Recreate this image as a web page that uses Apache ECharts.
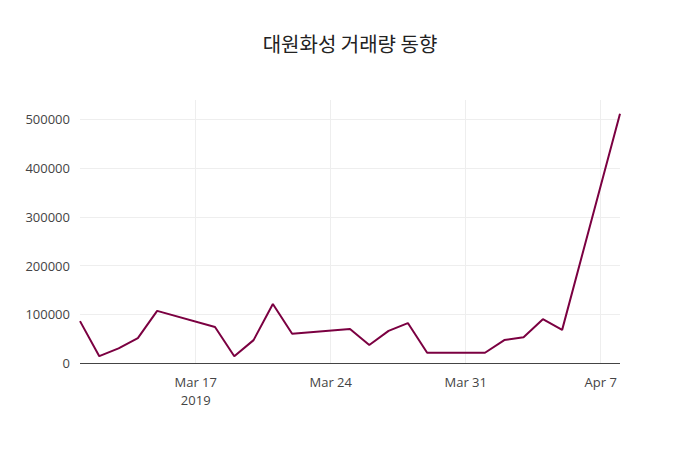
<!DOCTYPE html>
<html>
<head>
<meta charset="utf-8">
<script src="https://cdn.jsdelivr.net/npm/echarts@6/dist/echarts.min.js"></script>
<style>html,body{margin:0;padding:0;background:#fff}#chart{width:700px;height:450px}</style>
</head>
<body>
<div id="chart"></div>
<script>
const dates = ["2019-03-11","2019-03-12","2019-03-13","2019-03-14","2019-03-15",
  "2019-03-18","2019-03-19","2019-03-20","2019-03-21","2019-03-22",
  "2019-03-25","2019-03-26","2019-03-27","2019-03-28","2019-03-29",
  "2019-04-01","2019-04-02","2019-04-03","2019-04-04","2019-04-05","2019-04-08"];
const volumes = [86000,14000,30000,51000,107000,
  74000,14000,47000,121000,60000,
  70000,37000,66000,82000,21000,
  21000,47000,53000,90000,68000,512000];
const tickDates = ["2019-03-17","2019-03-24","2019-03-31","2019-04-07"];
const yTicks = [0,100000,200000,300000,400000,500000];

// x as day offset from Mar 3 so weekly ticks line up on Sundays
const base = Date.UTC(2019, 2, 3);
const day = 86400000;
function toDay(s) { return Math.round((Date.parse(s + "T00:00:00Z") - base) / day); }
const months = ["Jan","Feb","Mar","Apr","May","Jun","Jul","Aug","Sep","Oct","Nov","Dec"];
const ticks = tickDates.map(toDay);

let myChart = echarts.init(document.getElementById("chart"), null, { renderer: "svg" });
myChart.setOption({
  animation: false,
  title: {
    text: "대원화성 거래량 동향",
    left: "center", top: 28,
    textStyle: { fontFamily: "Noto Sans CJK KR", fontSize: 20, fontWeight: "normal", color: "#222" }
  },
  grid: { left: 80, right: 80, top: 100, bottom: 87 },
  xAxis: {
    type: "value", min: toDay(dates[0]), max: toDay(dates[dates.length - 1]),
    axisLine: { show: false },
    axisTick: { show: false, customValues: ticks },
    splitLine: { show: true, lineStyle: { color: "#eee" } },
    axisLabel: {
      customValues: ticks, color: "#444", fontSize: 13, fontFamily: "Open Sans", margin: 10, lineHeight: 18,
      formatter: function (v) {
        const d = new Date(base + v * day);
        let s = months[d.getUTCMonth()] + " " + d.getUTCDate();
        if (v === ticks[0]) s += "\n" + d.getUTCFullYear();
        return s;
      }
    }
  },
  yAxis: {
    type: "value", min: 0, max: 540000,
    axisLine: { show: false },
    axisTick: { show: false, customValues: yTicks },
    splitLine: { lineStyle: { color: "#eee" } },
    axisLabel: { customValues: yTicks, color: "#444", fontSize: 13, fontFamily: "Open Sans", margin: 10,
      formatter: function (v) { return String(v); } }
  },
  series: [{
    type: "line", symbol: "none",
    data: dates.map((d, i) => [toDay(d), volumes[i]]),
    lineStyle: { color: "#7b0041", width: 2 },
    markLine: {
      silent: true, symbol: "none", label: { show: false },
      lineStyle: { color: "#444", type: "solid", width: 1 },
      data: [{ yAxis: 0 }]
    }
  }]
});
</script>
</body>
</html>
